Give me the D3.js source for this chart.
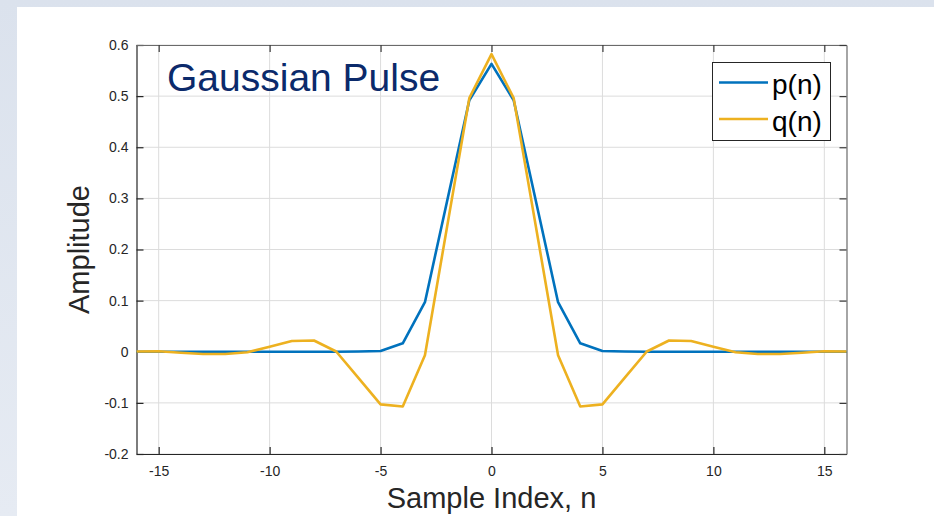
<!DOCTYPE html>
<html>
<head>
<meta charset="utf-8">
<script src="https://cdn.jsdelivr.net/npm/d3@7"></script>
<style>
  html, body { margin: 0; padding: 0; background: #ffffff; }
  svg { display: block; }
  text { font-family: "Liberation Sans", Arial, Helvetica, sans-serif; }
</style>
</head>
<body>
<svg id="chart" width="934" height="516"></svg>
<script>
// Sample index n from -16 to 16
const sampleIndex = d3.range(-16, 17);

// p(n): Gaussian pulse samples
const pValues = [
  0, 0, 0, 0, 0, 0, 0, 0, 0, 0, 0.0005, 0.0016, 0.0166, 0.097, 0.295, 0.492,
  0.563,
  0.492, 0.295, 0.097, 0.0166, 0.0016, 0.0005, 0, 0, 0, 0, 0, 0, 0, 0, 0, 0
];

// q(n): shaped pulse samples with side lobes
const qValues = [
  0.0005, 0.001, -0.002, -0.0045, -0.0045, -0.001, 0.010, 0.021, 0.022, 0.0005, -0.051, -0.103, -0.107, -0.007, 0.245, 0.496,
  0.582,
  0.496, 0.245, -0.007, -0.107, -0.103, -0.051, 0.0005, 0.022, 0.021, 0.010, -0.001, -0.0045, -0.0045, -0.002, 0.001, 0.0005
];

const xTicks = [-15, -10, -5, 0, 5, 10, 15];
const yTicks = [-0.2, -0.1, 0, 0.1, 0.2, 0.3, 0.4, 0.5, 0.6];
const seriesNames = ["p(n)", "q(n)"];
const seriesColors = ["#0072BD", "#EDB120"];
const titleText = "Gaussian Pulse";
const xLabel = "Sample Index, n";
const yLabel = "Amplitude";

const W = 934, H = 516;
const plot = { left: 136.5, right: 846.5, top: 45, bottom: 454 };

const svg = d3.select("#chart");

// Figure backdrop: tinted frame with white panel
const defs = svg.append("defs");
const grad = defs.append("linearGradient").attr("id", "frame")
  .attr("x1", 0).attr("y1", 0).attr("x2", 0).attr("y2", 1);
grad.append("stop").attr("offset", 0).attr("stop-color", "#dbe2ed");
grad.append("stop").attr("offset", 1).attr("stop-color", "#e6ebf3");
svg.append("rect").attr("width", W).attr("height", H).attr("fill", "url(#frame)");
svg.append("rect").attr("x", 17).attr("y", 7).attr("width", W - 17).attr("height", H - 7).attr("fill", "#ffffff");

const x = d3.scaleLinear().domain([-16, 16]).range([plot.left, plot.right]);
const y = d3.scaleLinear().domain([-0.2, 0.6]).range([plot.bottom, plot.top]);

// Grid
const grid = svg.append("g").attr("stroke", "#dcdcdc").attr("stroke-width", 1);
grid.selectAll("line.gx").data(xTicks).join("line")
  .attr("x1", d => x(d)).attr("x2", d => x(d))
  .attr("y1", plot.top).attr("y2", plot.bottom);
grid.selectAll("line.gy").data(yTicks).join("line")
  .attr("x1", plot.left).attr("x2", plot.right)
  .attr("y1", d => y(d)).attr("y2", d => y(d));

// Axes with inward ticks; labels use a plain hyphen for negatives
const tickLen = 7;
const fmtY = d => (Math.abs(d) < 1e-9 ? "0" : d.toFixed(1));
const fmtX = d => String(d);

const gx = svg.append("g").attr("transform", `translate(0,${plot.bottom})`)
  .call(d3.axisBottom(x).tickValues(xTicks).tickFormat(fmtX).tickSizeInner(-tickLen).tickSizeOuter(0).tickPadding(12));
const gy = svg.append("g").attr("transform", `translate(${plot.left},0)`)
  .call(d3.axisLeft(y).tickValues(yTicks).tickFormat(fmtY).tickSizeInner(-tickLen).tickSizeOuter(0).tickPadding(8));
const gxTop = svg.append("g").attr("transform", `translate(0,${plot.top})`)
  .call(d3.axisTop(x).tickValues(xTicks).tickSizeInner(-tickLen).tickSizeOuter(0).tickFormat(""));
const gyRight = svg.append("g").attr("transform", `translate(${plot.right},0)`)
  .call(d3.axisRight(y).tickValues(yTicks).tickSizeInner(-tickLen).tickSizeOuter(0).tickFormat(""));

[gx, gy].forEach(g => {
  g.attr("font-size", null).attr("font-family", null);
  g.select(".domain").attr("stroke", "#262626").attr("stroke-width", 1.2);
  g.selectAll(".tick line").attr("stroke", "#262626").attr("stroke-width", 1.2);
  g.selectAll(".tick text").attr("fill", "#262626")
    .style("font-size", "14px")
    .style("font-family", "'Liberation Sans', Arial, sans-serif");
});
[gxTop, gyRight].forEach(g => {
  g.select(".domain").attr("stroke", "#6a6a6a").attr("stroke-width", 1.2);
  g.selectAll(".tick line").attr("stroke", "#3a3a3a").attr("stroke-width", 1.2);
});

// Title inside the axes
svg.append("text")
  .attr("x", 167).attr("y", 91)
  .style("font-size", "39px").attr("fill", "#0b2a6b")
  .text(titleText);

// Series lines
const line = d3.line().x((d, i) => x(sampleIndex[i])).y(d => y(d));
[pValues, qValues].forEach((vals, k) => {
  svg.append("path")
    .datum(vals)
    .attr("fill", "none")
    .attr("stroke", seriesColors[k])
    .attr("stroke-width", 2.6)
    .attr("stroke-linejoin", "round")
    .attr("d", line);
});

// Legend
const leg = svg.append("g");
leg.append("rect")
  .attr("x", 712.5).attr("y", 62.5).attr("width", 118).attr("height", 78)
  .attr("fill", "#ffffff").attr("stroke", "#262626").attr("stroke-width", 1);
seriesNames.forEach((name, k) => {
  const cy = 82.5 + k * 36.5;
  leg.append("line")
    .attr("x1", 719).attr("x2", 768).attr("y1", cy).attr("y2", cy)
    .attr("stroke", seriesColors[k]).attr("stroke-width", 2.6);
  leg.append("text")
    .attr("x", 772).attr("y", cy + 11.5)
    .style("font-size", "28px").attr("fill", "#000000")
    .text(name);
});

// Axis labels
svg.append("text")
  .attr("x", (plot.left + plot.right) / 2).attr("y", 508)
  .attr("text-anchor", "middle")
  .style("font-size", "29px").attr("fill", "#262626")
  .text(xLabel);
svg.append("text")
  .attr("transform", `translate(89,${(plot.top + plot.bottom) / 2}) rotate(-90)`)
  .attr("text-anchor", "middle")
  .style("font-size", "29px").attr("fill", "#262626")
  .text(yLabel);
</script>
</body>
</html>
